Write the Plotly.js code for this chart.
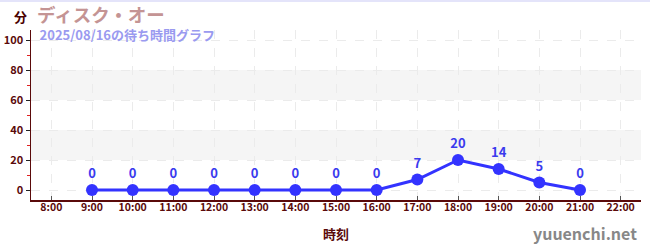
<!DOCTYPE html>
<html>
<head>
<meta charset="utf-8">
<script src="https://cdn.plot.ly/plotly-3.0.1.min.js"></script>
<style>
  html, body { margin: 0; padding: 0; background: #fff; }
  #topline { position: absolute; left: 0; top: 0; width: 650px; height: 2px; background: #e4e4fa; z-index: 5; }
  #chart { width: 650px; height: 250px; }
</style>
</head>
<body>
<div id="topline"></div>
<div id="chart"></div>
<script>
// Waiting times (minutes) by hour of the day
const hours = [9, 10, 11, 12, 13, 14, 15, 16, 17, 18, 19, 20, 21];
const waits = [0, 0, 0, 0, 0, 0, 0, 0, 7, 20, 14, 5, 0];
const tickHours = [8, 9, 10, 11, 12, 13, 14, 15, 16, 17, 18, 19, 20, 21, 22];
const tickLabels = ["8:00", "9:00", "10:00", "11:00", "12:00", "13:00", "14:00", "15:00",
                    "16:00", "17:00", "18:00", "19:00", "20:00", "21:00", "22:00"];
const yTicks = [0, 20, 40, 60, 80, 100];
const bands = [[20, 40], [60, 80]];

const titleText = "ディスク・オー";
const subtitleText = "2025/08/16の待ち時間グラフ";
const unitText = "分";
const xTitleText = "時刻";
const siteText = "yuuenchi.net";

const font = "'Noto Sans CJK JP', 'Noto Sans', sans-serif";
const axisColor = "#5a0a0a";

const trace = {
  x: hours,
  y: waits,
  type: "scatter",
  mode: "lines+markers+text",
  text: waits.map(String),
  textposition: "top center",
  textfont: { family: font, size: 13, color: "#3a3aee", weight: "bold" },
  line: { color: "#3333ff", width: 3 },
  marker: { color: "#3333ff", size: 12 },
  cliponaxis: false,
  hoverinfo: "skip"
};

const shapes = bands.map(b => ({
  type: "rect", xref: "paper", yref: "y", x0: 0, x1: 1, y0: b[0], y1: b[1],
  fillcolor: "#f5f5f5", line: { width: 0 }, layer: "below"
}));

// Title and subtitle share one two-line heading block
const heading =
  '<span style="font-size:18.5px;color:#c49494">' + titleText + '</span><br>' +
  '<span style="font-size:13px;color:#9a9af0">\u2009' + subtitleText + '</span>';

const layout = {
  width: 650, height: 250,
  margin: { l: 31, r: 9, t: 30, b: 50 },
  paper_bgcolor: "#fff", plot_bgcolor: "#fff",
  showlegend: false,
  font: { family: font, color: axisColor },
  xaxis: {
    range: [7.5, 22.5],
    tickmode: "array", tickvals: tickHours, ticktext: tickLabels,
    tickfont: { family: font, size: 10.5, color: axisColor, weight: "bold" },
    ticks: "inside", ticklen: 4, tickcolor: "#555", tickwidth: 1,
    ticklabelstandoff: -3,
    showgrid: true, gridcolor: "#ebebeb", griddash: "dash", gridwidth: 1,
    showline: true, linecolor: axisColor, linewidth: 1.5,
    zeroline: false, fixedrange: true
  },
  yaxis: {
    range: [-6.67, 106.67],
    tickmode: "array", tickvals: yTicks,
    tickfont: { family: font, size: 11, color: axisColor, weight: "bold" },
    ticks: "outside", ticklen: 4, tickcolor: "#222", tickwidth: 1,
    minor: { tickvals: [10, 30, 50, 70, 90], ticks: "outside", ticklen: 3, tickcolor: "#e02020", showgrid: false },
    showgrid: true, gridcolor: "#ebebeb", griddash: "dash", gridwidth: 1,
    showline: true, linecolor: axisColor, linewidth: 1.5,
    zeroline: false, fixedrange: true
  },
  shapes: shapes,
  annotations: [
    { text: unitText, xref: "paper", yref: "paper", x: -0.004, y: 1.0, yshift: 14,
      xanchor: "right", yanchor: "middle", showarrow: false,
      font: { family: font, size: 13, color: "#4a0000", weight: "bold" } },
    { text: heading, xref: "paper", yref: "paper", x: 0.0085, y: 1.0, yshift: 30,
      xanchor: "left", yanchor: "top", align: "left", showarrow: false, borderpad: 0,
      font: { family: font, size: 13.5, color: "#c49494", weight: "bold" } },
    { text: xTitleText, xref: "paper", yref: "paper", x: 0.5, y: 0, yshift: -22,
      xanchor: "center", yanchor: "top", showarrow: false,
      font: { family: font, size: 13, color: axisColor, weight: "bold" } },
    { text: siteText, xref: "paper", yref: "paper", x: 1.0, y: 0, xshift: -2, yshift: -33,
      xanchor: "right", yanchor: "middle", showarrow: false,
      font: { family: font, size: 16, color: "#888", weight: "bold" } }
  ]
};

Plotly.newPlot("chart", [trace], layout, { displayModeBar: false, staticPlot: true });
</script>
</body>
</html>
